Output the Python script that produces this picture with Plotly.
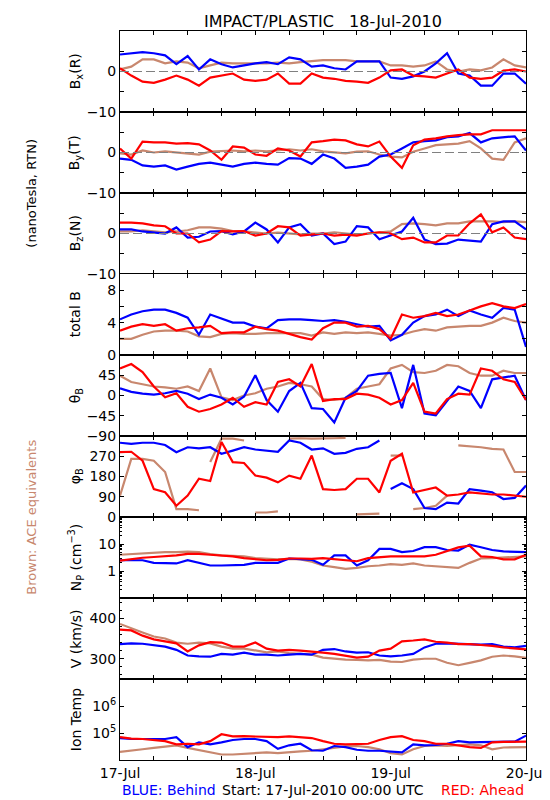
import plotly.graph_objects as go
from plotly.subplots import make_subplots
import pandas as pd

# ---------------- data (2-hour samples) ----------------
hours = list(range(0, 73, 2))
times = pd.Timestamp("2010-07-17 00:00") + pd.to_timedelta(hours, unit="h")

bx_blue = [4.2, 4.5, 4.8, 4.5, 4.0, 1.8, 3.8, 0.5, 3.0, 1.8, 1.0, 1.5, 2.0, 2.3, 1.8, 3.5, 3.0, 1.2, 1.5,
           0.8, 0.5, 2.5, 2.5, 2.5, -1.5, -1.8, -1.2, 0.0, 2.0, 4.5, -0.5, -1.0, -3.5, -3.5, -0.5, -0.5, -3.0]
bx_red = [0.8, -1.0, -2.5, -2.8, -2.0, -1.0, -2.0, -3.5, -1.5, -1.0, -0.5, -2.0, -2.3, -2.0, -0.5, -3.0, -3.0,
          -0.5, -1.5, -1.8, -2.3, -2.5, -2.8, -1.5, 0.3, 0.5, -1.0, -1.2, -1.5, -0.5, 0.5, -1.5, -1.8, -1.5,
          0.2, 0.5, 0.0]
bx_brown = [0.5, 1.2, 3.0, 3.0, 2.0, 2.5, 2.2, 0.8, 1.5, 2.2, 2.0, 2.0, 2.0, 2.0, 2.2, 2.0, 2.3, 2.5, 2.8,
            2.8, 2.8, 2.5, 2.5, 2.5, 1.5, 1.5, 1.2, 1.5, 2.5, 0.5, 0.0, 0.5, 0.3, 1.0, 3.0, 1.5, 1.0]

by_blue = [-1.5, -1.8, -3.2, -3.5, -3.2, -4.2, -3.5, -2.8, -2.5, -3.0, -3.5, -2.8, -2.5, -2.8, -3.0, -1.4,
           -1.5, -2.8, -0.5, -1.5, -3.8, -3.5, -3.0, -1.0, -0.5, 1.0, 2.5, 2.8, 3.0, 3.8, 4.0, 4.8, 2.5, 3.5,
           3.8, 4.0, 0.5]
by_red = [1.0, -1.5, 2.7, 2.5, 2.5, 2.2, 2.3, 2.0, 0.5, -1.8, 1.5, 1.2, -0.5, -0.8, 1.0, 0.5, -1.0, 2.5, 2.8,
          3.2, 3.0, 2.0, 1.5, 2.7, -1.0, -3.8, 1.8, 3.2, 3.5, 4.0, 4.3, 4.5, 4.5, 5.5, 5.5, 5.5, 5.5]
by_brown = [-0.2, -0.5, 0.5, 0.0, 0.3, 0.0, -0.3, -0.5, 0.2, 0.3, 0.5, 0.3, 0.5, 0.3, 0.5, 0.8, 0.5, 0.8, 0.3,
            0.0, -0.2, 0.2, 0.3, -0.5, -1.0, -1.2, 0.2, 1.0, 1.8, 2.0, 2.2, 2.8, 1.0, -1.5, -1.8, 2.5, 3.5]

bz_blue = [1.0, 1.0, 0.5, 0.2, 0.0, 1.5, -1.0, -0.8, 0.5, 0.6, -0.2, 0.5, 2.7, 1.0, -2.2, 1.5, 2.3, -0.5, 0.0,
           -2.6, -2.0, 1.8, 1.5, -1.4, -0.5, 0.5, 3.9, -1.5, -2.6, -2.5, -1.5, -1.8, -2.0, 2.3, 3.0, 3.0, 1.0]
bz_red = [2.7, 2.7, 2.5, 2.0, 1.8, 0.0, 0.0, -2.2, -1.5, 0.6, 0.5, 0.6, -0.5, 0.0, 1.8, 1.5, -0.5, -0.3, 0.0,
          -0.5, -0.3, -0.5, 0.0, 0.3, 0.0, -1.4, -1.0, -2.2, -2.2, -0.5, -0.5, 2.5, 4.7, 0.3, 1.5, -1.0, -1.4]
bz_brown = [0.5, 0.5, 0.8, 0.5, 0.3, 0.5, 0.8, 1.5, 1.5, 1.2, 0.6, 0.5, 0.3, 0.0, 0.2, 0.0, -0.2, 0.0, 0.0,
            0.3, 0.0, -0.3, 0.0, 0.2, 0.5, 2.3, 2.5, 2.3, 2.0, 2.5, 2.5, 3.0, 3.0, 3.0, 2.8, 3.0, 2.8]

bt_blue = [4.4, 5.0, 5.4, 5.6, 5.6, 5.2, 4.6, 2.5, 5.0, 4.5, 4.0, 4.0, 3.5, 3.3, 4.3, 4.4, 4.4, 4.3, 4.2,
           4.3, 4.1, 3.8, 3.5, 3.6, 1.8, 2.5, 4.0, 4.8, 5.0, 5.6, 4.8, 5.5, 5.0, 4.6, 5.8, 5.6, 1.0]
bt_red = [3.0, 3.5, 3.8, 3.6, 3.8, 3.0, 3.3, 3.4, 3.6, 2.7, 2.8, 2.8, 3.5, 3.2, 3.0, 2.6, 2.2, 1.9, 3.3,
          4.0, 4.0, 3.5, 3.6, 3.2, 2.0, 5.0, 4.6, 4.8, 5.2, 4.8, 5.0, 5.5, 6.0, 6.4, 6.0, 5.8, 6.3]
bt_brown = [2.0, 2.0, 2.5, 2.9, 3.0, 3.0, 2.9, 2.3, 2.2, 2.6, 2.7, 2.6, 2.6, 2.7, 2.7, 2.7, 2.7, 2.4, 2.8,
            2.6, 2.8, 2.7, 2.8, 2.6, 2.4, 2.5, 2.9, 3.2, 3.0, 3.4, 3.5, 3.6, 3.6, 4.0, 4.6, 4.2, 4.0]

th_blue = [16, 8, 4, 2, 5, 10, 4, -8, 2, -5, -20, -2, 45, -10, -36, 10, 28, -28, -30, -60, -5, 10, 44, 48,
           50, -28, 68, -40, -44, -12, 20, 10, -28, 36, 40, 44, -10]
th_red = [60, 70, 52, 20, -4, 5, -25, -36, -30, -20, -5, -25, -15, -20, 30, 36, 20, 70, -12, -8, -8, 4, 2,
          -5, -20, -10, 28, -36, -40, -8, 4, 2, 60, 55, 36, 30, -10]
th_brown = [44, 30, 25, 20, 18, 15, 20, 10, 60, -4, -10, 0, 5, 15, 20, 28, 25, 20, -8, -10, -5, 15, 20, 25,
            60, 68, 52, 50, 55, 68, 65, 50, 44, 44, 55, 50, 50]

ph_blue = [330, 325, 330, 330, 320, 288, 310, 305, 310, 281, 295, 310, 300, 296, 290, 340, 330, 300, 305,
           281, 285, 303, 310, 340, 124, 150, 124, 40, 35, 64, 60, 124, 117, 110, 80, 85, 140]
ph_red = [288, 290, 250, 124, 110, 50, 95, 170, 160, 333, 244, 240, 184, 175, 154, 184, 170, 273, 124, 120,
          124, 170, 170, 109, 250, 281, 109, 120, 131, 95, 100, 109, 105, 100, 100, 95, 90]
ph_brown = [95, 258, 258, 250, 200, 35, 35, 30, 244, 348, 348, 340, 20, 20, 25, 348, 350, 348, 348, 350,
            352, 12, 12, 15, 273, 273, 35, 40, 50, 95, 318, 315, 310, 303, 300, 200, 200]

np_blue = [2.5, 2.5, 2.5, 2.0, 1.9, 1.9, 2.5, 2.0, 1.6, 1.6, 1.7, 1.7, 2.0, 2.0, 2.0, 2.9, 2.8, 2.6, 1.7,
           3.8, 3.8, 1.6, 2.5, 6.6, 6.6, 5.0, 5.5, 7.6, 7.6, 6.0, 5.7, 9.5, 7.6, 6.0, 5.3, 5.3, 5.0]
np_red = [2.4, 2.8, 3.1, 3.3, 3.5, 3.8, 4.3, 4.3, 4.0, 3.8, 3.5, 3.0, 2.7, 2.5, 2.6, 2.9, 2.9, 2.8, 3.0,
          2.8, 2.5, 2.3, 3.0, 3.3, 3.5, 3.5, 3.5, 3.5, 4.0, 5.5, 7.5, 8.7, 3.5, 3.3, 2.7, 2.7, 4.0]
np_brown = [4.0, 4.3, 4.5, 4.8, 5.0, 5.0, 5.2, 5.0, 4.2, 3.8, 3.6, 3.5, 3.0, 2.8, 2.7, 2.8, 2.7, 2.2, 1.6,
            1.4, 1.2, 1.3, 1.5, 1.6, 1.8, 1.7, 1.9, 1.6, 1.5, 1.4, 1.3, 2.0, 2.9, 3.0, 3.2, 3.3, 3.5]

v_blue = [336, 338, 337, 333, 330, 322, 308, 306, 305, 312, 310, 315, 310, 310, 308, 310, 312, 310, 322,
          324, 318, 315, 316, 308, 306, 308, 312, 328, 337, 338, 337, 336, 335, 336, 330, 328, 332]
v_red = [372, 370, 357, 348, 343, 338, 318, 333, 341, 340, 330, 330, 340, 325, 320, 322, 320, 318, 315,
         312, 308, 303, 305, 320, 325, 343, 345, 348, 342, 340, 336, 336, 334, 332, 328, 325, 323]
v_brown = [386, 375, 365, 355, 350, 340, 337, 340, 338, 330, 325, 325, 320, 316, 318, 314, 312, 310, 303,
           300, 298, 297, 296, 297, 293, 292, 298, 300, 300, 290, 284, 290, 296, 305, 308, 306, 302]

ti_blue = [6.5e4, 6.0e4, 6.0e4, 6.0e4, 6.0e4, 7.0e4, 3.0e4, 4.5e4, 3.8e4, 4.5e4, 5.5e4, 6.0e4, 6.0e4,
           5.0e4, 2.6e4, 3.5e4, 4.0e4, 2.3e4, 2.2e4, 3.3e4, 3.0e4, 2.4e4, 2.2e4, 2.2e4, 2.0e4, 1.9e4,
           3.8e4, 3.5e4, 3.6e4, 4.0e4, 5.0e4, 4.5e4, 4.6e4, 4.6e4, 4.6e4, 4.8e4, 8.0e4]
ti_red = [7.0e4, 6.2e4, 6.0e4, 5.5e4, 5.0e4, 3.8e4, 4.0e4, 3.8e4, 5.0e4, 9.0e4, 7.5e4, 7.6e4, 7.5e4,
          7.0e4, 7.0e4, 7.5e4, 7.0e4, 6.5e4, 5.0e4, 4.0e4, 3.8e4, 4.0e4, 4.0e4, 5.5e4, 7.0e4, 7.6e4,
          5.5e4, 5.0e4, 4.0e4, 4.0e4, 3.5e4, 3.0e4, 2.8e4, 4.5e4, 4.7e4, 4.7e4, 4.8e4]
ti_brown = [2.0e4, 2.3e4, 2.5e4, 2.8e4, 3.2e4, 3.5e4, 2.8e4, 2.3e4, 2.0e4, 1.6e4, 1.6e4, 1.7e4, 1.8e4,
            1.9e4, 1.8e4, 2.0e4, 2.1e4, 2.2e4, 2.5e4, 3.0e4, 3.2e4, 3.3e4, 3.0e4, 2.5e4, 1.8e4, 1.6e4,
            2.5e4, 3.3e4, 3.5e4, 3.3e4, 3.5e4, 3.8e4, 3.5e4, 2.5e4, 2.9e4, 3.0e4, 3.0e4]

panel_titles = ["B<sub>x</sub>(R)", "B<sub>y</sub>(T)", "B<sub>z</sub>(N)", "total B", "θ<sub>B</sub>",
                "φ<sub>B</sub>", "N<sub>P</sub> (cm<sup>−3</sup>)", "V (km/s)", "Ion Temp"]
day_labels = ["17-Jul", "18-Jul", "19-Jul", "20-Jul"]

# ---------------- figure ----------------
BLUE, RED, BROWN = "#0000FF", "#FF0000", "#C8876E"
FONT = "DejaVu Sans"

panels = [
    (bx_brown, bx_blue, bx_red), (by_brown, by_blue, by_red), (bz_brown, bz_blue, bz_red),
    (bt_brown, bt_blue, bt_red), (th_brown, th_blue, th_red), (ph_brown, ph_blue, ph_red),
    (np_brown, np_blue, np_red), (v_brown, v_blue, v_red), (ti_brown, ti_blue, ti_red),
]


def break_wraps(xs, ys, limit=180):
    """Insert gaps where an angle wraps around 0/360 so no line crosses the whole panel."""
    ox, oy = [xs[0]], [ys[0]]
    for k in range(1, len(ys)):
        if abs(ys[k] - ys[k - 1]) > limit:
            ox.append(None)
            oy.append(None)
        ox.append(xs[k])
        oy.append(ys[k])
    return ox, oy


fig = make_subplots(rows=9, cols=1, shared_xaxes=True, vertical_spacing=0)

tlist = list(times)
for r, (sb, sbl, sr) in enumerate(panels, start=1):
    for ser, col in ((sb, BROWN), (sbl, BLUE), (sr, RED)):
        if r == 6:
            xx, yy = break_wraps(tlist, ser)
        else:
            xx, yy = tlist, ser
        fig.add_trace(go.Scatter(x=xx, y=yy, mode="lines", line=dict(color=col, width=2.2),
                                 connectgaps=False, showlegend=False, hoverinfo="skip"), row=r, col=1)

t_start = pd.Timestamp("2010-07-17 00:00")
t_end = pd.Timestamp("2010-07-20 00:00")
day_ticks = list(pd.date_range(t_start, t_end, freq="24h"))
six_ticks = list(pd.date_range(t_start, t_end, freq="6h"))

for r in range(1, 10):
    fig.update_xaxes(row=r, col=1, range=[t_start, t_end], showline=True, linecolor="black", linewidth=1,
                     mirror="allticks", ticks="inside", ticklen=4, tickcolor="black",
                     tickmode="array", tickvals=day_ticks, ticktext=day_labels,
                     minor=dict(tickmode="array", tickvals=six_ticks, ticks="inside", ticklen=4,
                                tickcolor="black"),
                     showticklabels=(r == 9), showgrid=False, zeroline=False,
                     tickfont=dict(family=FONT, size=14, color="black"))

yfmt = dict(showline=True, linecolor="black", linewidth=1, mirror="allticks", ticks="inside", ticklen=4,
            tickcolor="black", showgrid=False, zeroline=False, tickmode="array",
            tickfont=dict(family=FONT, size=14, color="black"))


def minor(vals, ln=4):
    return dict(tickmode="array", tickvals=vals, ticks="inside", ticklen=ln, tickcolor="black")


for r in (1, 2, 3):
    fig.update_yaxes(row=r, col=1, range=[-10, 10], tickvals=[-10, 0], ticktext=["−10", "0"],
                     minor=minor([-5, 5, 10]), **yfmt)
fig.update_yaxes(row=4, col=1, range=[0, 10], tickvals=[0, 4, 8], ticktext=["0", "4", "8"],
                 minor=minor([2, 6, 10]), **yfmt)
fig.update_yaxes(row=5, col=1, range=[-90, 90], tickvals=[-90, -45, 0, 45],
                 ticktext=["−90", "−45", "0", "45"], minor=minor([90]), **yfmt)
fig.update_yaxes(row=6, col=1, range=[0, 360], tickvals=[0, 90, 180, 270],
                 ticktext=["0", "90", "180", "270"], minor=minor([360]), **yfmt)
np_minor = [m * 10 ** e for e in (-1, 0, 1) for m in range(2, 10)]
fig.update_yaxes(row=7, col=1, type="log", range=[-1, 2], tickvals=[1, 10], ticktext=["1", "10"],
                 minor=minor(np_minor, 2), **yfmt)
fig.update_yaxes(row=8, col=1, range=[250, 450], tickvals=[300, 400], ticktext=["300", "400"],
                 minor=minor(list(range(260, 450, 20)), 2), **yfmt)
fig.update_yaxes(row=9, col=1, type="log", range=[4, 7], tickvals=[1e5, 1e6],
                 ticktext=["10<sup>5</sup>", "10<sup>6</sup>"], **yfmt)

# zero reference lines in the B-component panels
for r in (1, 2, 3):
    fig.add_hline(y=0, row=r, col=1, line=dict(color="#808080", width=1, dash="9px,4px"), layer="above")

# ---------------- text ----------------
ann = []
for i, title in enumerate(panel_titles):
    yc = 1 - (i + 0.5) / 9
    ann.append(dict(text=title, x=-0.109, y=yc, xref="paper", yref="paper", textangle=-90,
                    xanchor="center", yanchor="middle", showarrow=False,
                    font=dict(family=FONT, size=14, color="black")))
ann += [
    dict(text="IMPACT/PLASTIC   18-Jul-2010", x=0.5, y=1.0137, xref="paper", yref="paper",
         xanchor="center", yanchor="middle", showarrow=False, font=dict(family=FONT, size=16, color="black")),
    dict(text="(nanoTesla, RTN)", x=-0.22, y=1 - 2 / 9, xref="paper", yref="paper", textangle=-90,
         xanchor="center", yanchor="middle", showarrow=False, font=dict(family=FONT, size=13, color="black")),
    dict(text="Brown: ACE equivalents", x=-0.22, y=1 - 6 / 9, xref="paper", yref="paper", textangle=-90,
         xanchor="center", yanchor="middle", showarrow=False, font=dict(family=FONT, size=13, color=BROWN)),
    dict(text="BLUE: Behind", x=0.0, y=-0.041, xref="paper", yref="paper", xanchor="left",
         yanchor="middle", showarrow=False, font=dict(family=FONT, size=14, color=BLUE)),
    dict(text="Start: 17-Jul-2010 00:00 UTC", x=0.5, y=-0.041, xref="paper", yref="paper",
         xanchor="center", yanchor="middle", showarrow=False, font=dict(family=FONT, size=14, color="black")),
    dict(text="RED: Ahead", x=1.0, y=-0.041, xref="paper", yref="paper", xanchor="right",
         yanchor="middle", showarrow=False, font=dict(family=FONT, size=14, color=RED)),
]

fig.update_layout(width=550, height=800, margin=dict(l=112, r=24, t=23, b=48),
                  plot_bgcolor="white", paper_bgcolor="white", annotations=ann,
                  font=dict(family=FONT, size=14, color="black"), showlegend=False)

fig.write_html("out.html")
